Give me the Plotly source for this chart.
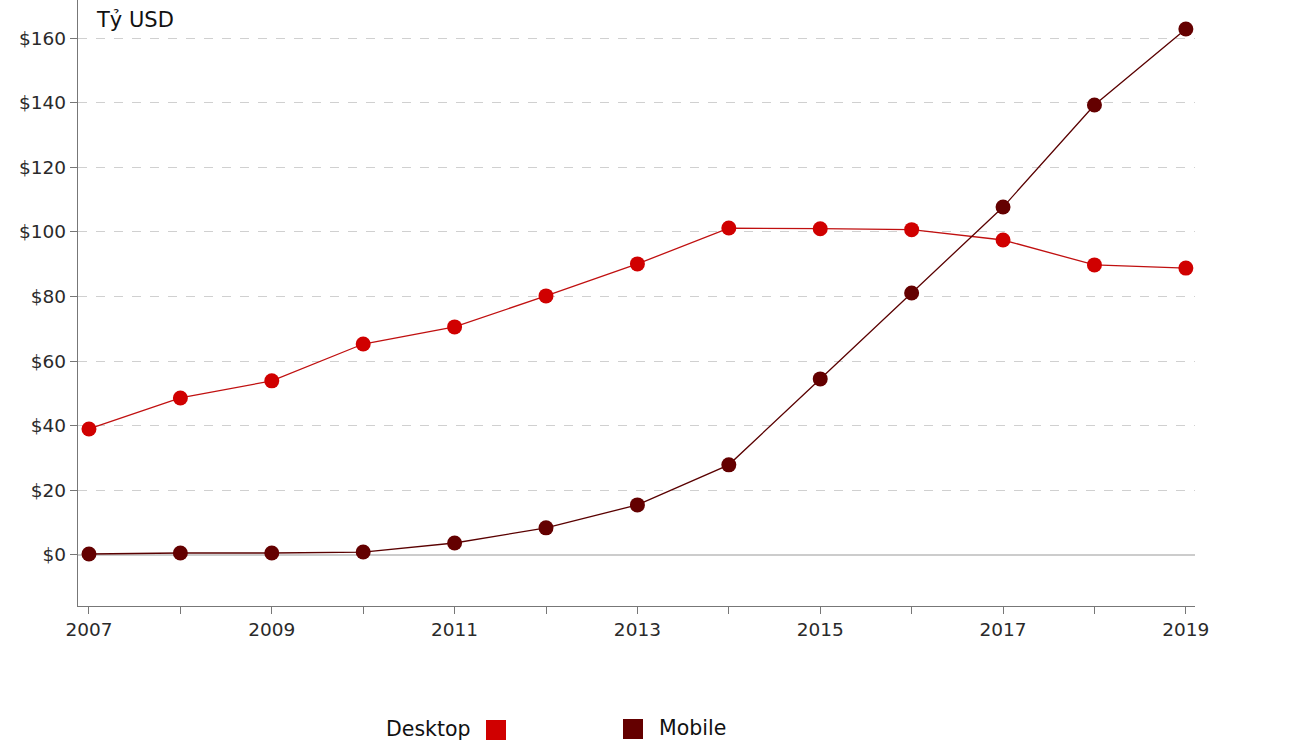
import plotly.graph_objects as go

years = list(range(2007, 2020))
desktop = [39.0, 48.6, 53.9, 65.3, 70.6, 80.2, 90.1, 101.2, 101.0, 100.7, 97.5, 89.8, 88.8]
mobile = [0.3, 0.6, 0.6, 0.9, 3.7, 8.4, 15.5, 27.9, 54.5, 81.1, 107.7, 139.3, 162.8]
y_ticks = [0, 20, 40, 60, 80, 100, 120, 140, 160]
x_ticktext = [str(y) if (y - 2007) % 2 == 0 else "" for y in years]

desktop_color = "#d00000"
mobile_color = "#640000"

fig = go.Figure()
fig.add_trace(go.Scatter(x=years, y=desktop, mode="lines+markers", name="Desktop",
                         line=dict(color="#c01010", width=1.3),
                         marker=dict(color=desktop_color, size=15), showlegend=False))
fig.add_trace(go.Scatter(x=years, y=mobile, mode="lines+markers", name="Mobile",
                         line=dict(color="#5a0000", width=1.3),
                         marker=dict(color=mobile_color, size=15), showlegend=False))

W, H = 1304, 743
ml, mr, mt, mb = 78, 109, 0, 137
pw = W - ml - mr
ph = H - mt - mb

def px(xp):
    return (xp - ml) / pw

def py(yp):
    return (H - mb - yp) / ph

tick_font = dict(family="DejaVu Sans", size=18.5, color="#2a2a2a")

fig.update_layout(
    width=W, height=H,
    margin=dict(l=ml, r=mr, t=mt, b=mb),
    paper_bgcolor="white", plot_bgcolor="white",
    font=dict(family="DejaVu Sans", color="#222"),
    xaxis=dict(range=[2006.88, 2019.1], tickvals=years, ticktext=x_ticktext,
               showgrid=False, zeroline=False, showline=True, linecolor="#777", linewidth=1.3,
               ticks="outside", ticklen=7, tickcolor="#777", tickfont=tick_font),
    yaxis=dict(range=[-15.8, 171.8], tickvals=y_ticks, ticktext=["$" + str(v) for v in y_ticks],
               showgrid=True, gridcolor="#d0d0d0", griddash="dash", gridwidth=1,
               zeroline=True, zerolinecolor="#cccccc", zerolinewidth=1.5,
               showline=True, linecolor="#777", linewidth=1.3,
               ticks="outside", ticklen=7, tickcolor="#777", tickfont=tick_font),
    annotations=[
        dict(text="Tỷ USD", xref="paper", yref="paper", x=px(94), y=py(6),
             xanchor="left", yanchor="top", showarrow=False,
             font=dict(family="DejaVu Sans", size=21, color="#111")),
        dict(text="Desktop", xref="paper", yref="paper", x=px(473), y=py(729),
             xanchor="right", yanchor="middle", showarrow=False,
             font=dict(family="DejaVu Sans", size=20.5, color="#111")),
        dict(text="Mobile", xref="paper", yref="paper", x=px(657), y=py(728),
             xanchor="left", yanchor="middle", showarrow=False,
             font=dict(family="DejaVu Sans", size=20.5, color="#111")),
    ],
    shapes=[
        dict(type="rect", xref="paper", yref="paper", x0=px(486), x1=px(506), y0=py(740), y1=py(720),
             fillcolor=desktop_color, line=dict(width=0)),
        dict(type="rect", xref="paper", yref="paper", x0=px(623), x1=px(643), y0=py(739), y1=py(719),
             fillcolor=mobile_color, line=dict(width=0)),
    ],
)

fig.write_html("out.html", config={"displayModeBar": False},
               post_script="document.body.style.margin='0';document.body.style.overflow='hidden';")
